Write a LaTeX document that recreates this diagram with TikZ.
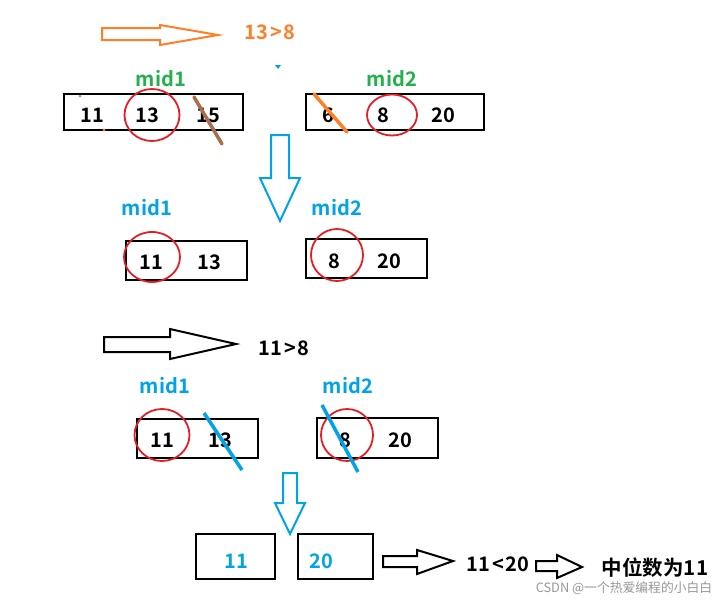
\documentclass[tikz,border=0pt]{standalone}
\usepackage{fontspec}
\setmainfont{Noto Sans CJK SC}[BoldFont={* Bold}]
\newfontfamily\wmfont{Noto Sans CJK SC}
\definecolor{cOrange}{RGB}{255,127,39}
\definecolor{cGreen}{RGB}{34,177,76}
\definecolor{cBlue}{RGB}{0,162,232}
\definecolor{cRed}{RGB}{230,30,36}
\definecolor{cBrown}{RGB}{170,110,75}
\definecolor{cGray}{RGB}{150,150,150}
\tikzset{
  numbox/.style={draw=black,line width=2pt},
  num/.style={font=\fontsize{20}{22}\selectfont\bfseries,inner sep=0pt},
  lbl/.style={font=\fontsize{20}{22}\selectfont\bfseries,inner sep=0pt},
  ring/.style={draw=cRed,line width=1.8pt},
  slash/.style={line width=3.5pt},
  hollow/.style={line width=2pt,fill=white},
}
\newcommand\relsp{\hspace{0.1em}}
\begin{document}
\begin{tikzpicture}[x=1pt,y=-1pt]
\useasboundingbox (0,0) rectangle (726,605);
% ---------- row 1 ----------
\draw[hollow,draw=cOrange] (102,28) -- (160,28) -- (160,25) -- (218,35) -- (160,45) -- (160,40) -- (102,40) -- cycle;
\node[lbl,text=cOrange] (t1) at (270,32) {13\relsp>\relsp8};
\fill[cBlue] (275,65) -- (281,65) -- (278,69) -- cycle;
\node[lbl,text=cGreen] (m1a) at (161,79) {mid1};
\node[lbl,text=cGreen] (m2a) at (392,79) {mid2};
\draw[numbox] (64,94) rectangle (243,130);
\node[num] (a11) at (92,115) {11};
\node[num] (a13) at (147,115) {13};
\node[num] (a15) at (208,115) {15};
\draw[ring] (152,115) ellipse [x radius=27.5, y radius=26];
\draw[cBrown,slash,line cap=round] (194,97) -- (222,144);
\fill[cOrange] (80,96) circle (1.5);
\fill[cOrange] (104,130) circle (1.5);
\draw[numbox] (306,94) rectangle (484,130);
\node[num] (b6) at (328,115) {6};
\node[num] (b8) at (383,115) {8};
\node[num] (b20) at (443,115) {20};
\draw[ring] (392,115) ellipse [x radius=25, y radius=20.5];
\draw[cOrange,slash,line cap=round] (314,94) -- (347,132);
% ---------- arrow down 1 ----------
\draw[hollow,draw=cBlue] (271,135) -- (289,135) -- (289,178) -- (300,178) -- (280,221) -- (260,178) -- (271,178) -- cycle;
% ---------- row 2 ----------
\node[lbl,text=cBlue] (m1b) at (147,208) {mid1};
\node[lbl,text=cBlue] (m2b) at (337,208) {mid2};
\draw[numbox] (126,241) rectangle (247,280);
\node[num] (c11) at (151,262) {11};
\node[num] (c13) at (209,262) {13};
\draw[ring] (152,257) ellipse [x radius=28, y radius=25];
\draw[numbox] (306,239) rectangle (427,278);
\node[num] (d8) at (334,261) {8};
\node[num] (d20) at (389,261) {20};
\draw[ring] (337,255) ellipse [x radius=26, y radius=26];
% ---------- row 3 ----------
\draw[hollow,draw=black] (104,337) -- (170,337) -- (170,329) -- (236,344) -- (170,359) -- (170,352) -- (104,352) -- cycle;
\node[lbl] (t2) at (284,348) {11\relsp>\relsp8};
\node[lbl,text=cBlue] (m1c) at (165,386) {mid1};
\node[lbl,text=cBlue] (m2c) at (348,386) {mid2};
\draw[numbox] (137,419) rectangle (258,458);
\node[num] (e11) at (162,440) {11};
\node[num] (e13) at (220,440) {13};
\draw[ring] (162,435) ellipse [x radius=27.5, y radius=26];
\draw[cBlue,slash] (204,413) -- (242,470);
\draw[numbox] (317,418) rectangle (438,458);
\node[num] (f8) at (345,440) {8};
\node[num] (f20) at (400,440) {20};
\draw[ring] (347,435) ellipse [x radius=26, y radius=26];
\draw[cBlue,slash] (322,405) -- (358,472);
% ---------- arrow down 2 ----------
\draw[hollow,draw=cBlue] (283,473) -- (297,473) -- (297,503) -- (305,503) -- (290,534) -- (275,503) -- (283,503) -- cycle;
% ---------- row 4 ----------
\draw[numbox] (196,534) rectangle (275,579);
\node[num,text=cBlue] (g11) at (236,561) {11};
\draw[numbox] (298,534) rectangle (373,579);
\node[num,text=cBlue] (g20) at (321,561) {20};
\draw[hollow,draw=black] (383,556) -- (417,556) -- (417,550) -- (453,561) -- (417,574) -- (417,567) -- (383,567) -- cycle;
\node[lbl] (t3) at (498,564) {11\relsp<\relsp20};
\draw[hollow,draw=black] (536,561) -- (557,561) -- (557,555) -- (582,567) -- (557,578) -- (557,571) -- (536,571) -- cycle;
\node[lbl,font=\fontsize{20.5}{22}\selectfont\bfseries] (res) at (655,568) {中位数为11};
\node[font=\wmfont\fontsize{12.8}{14}\selectfont,text=cGray,inner sep=0pt] (wm) at (624,588) {CSDN @一个热爱编程的小白白};
\end{tikzpicture}
\end{document}
